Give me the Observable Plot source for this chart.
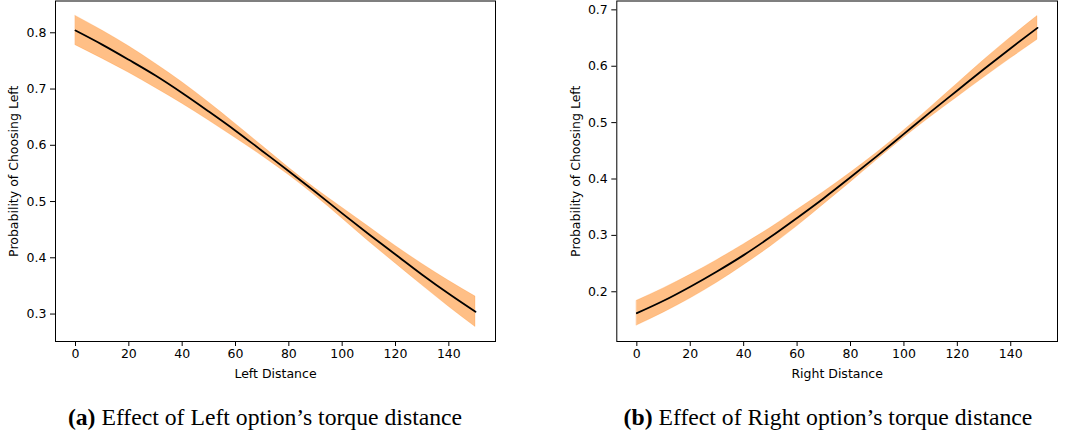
<!DOCTYPE html>
<html>
<head>
<meta charset="utf-8">
<script src="https://cdn.jsdelivr.net/npm/d3@7"></script>
<script src="https://cdn.jsdelivr.net/npm/@observablehq/plot@0.6"></script>
<style>
  html, body { margin: 0; padding: 0; background: #fff; }
  #fig { position: relative; width: 1079px; height: 437px; overflow: hidden; background: #fff; }
  .panel { position: absolute; top: 0; }
  .cap { position: absolute; top: 405.5px; font-family: "Liberation Serif", "Times New Roman", serif; font-size: 23.7px; line-height: 23.7px; color: #000; text-align: center; white-space: nowrap; }
  .cap b { font-weight: bold; }
</style>
</head>
<body>
<div id="fig">
  <div id="pa" class="panel" style="left:0px"></div>
  <div id="pb" class="panel" style="left:540px"></div>
  <div class="cap" style="left:15px; width:500px"><b>(a)</b> Effect of Left option’s torque distance</div>
  <div class="cap" style="left:578px; width:500px"><b>(b)</b> Effect of Right option’s torque distance</div>
</div>
<script>
// ---- data ----
const distances = [0, 10, 20, 30, 40, 50, 60, 70, 80, 90, 100, 110, 120, 130, 140, 150];

const leftMean  = [0.804, 0.779, 0.752, 0.724, 0.693, 0.660, 0.626, 0.590, 0.554, 0.517, 0.479, 0.442, 0.406, 0.370, 0.336, 0.304];
const leftLower = [0.778, 0.754, 0.729, 0.702, 0.674, 0.644, 0.613, 0.581, 0.547, 0.510, 0.470, 0.429, 0.390, 0.351, 0.313, 0.277];
const leftUpper = [0.830, 0.804, 0.776, 0.745, 0.712, 0.676, 0.638, 0.599, 0.560, 0.523, 0.489, 0.455, 0.421, 0.389, 0.359, 0.331];

const rightMean  = [0.162, 0.184, 0.209, 0.236, 0.265, 0.297, 0.331, 0.366, 0.403, 0.441, 0.480, 0.519, 0.557, 0.595, 0.632, 0.668];
const rightLower = [0.140, 0.163, 0.188, 0.216, 0.247, 0.280, 0.316, 0.355, 0.394, 0.434, 0.473, 0.510, 0.545, 0.580, 0.614, 0.647];
const rightUpper = [0.184, 0.206, 0.230, 0.256, 0.284, 0.313, 0.345, 0.377, 0.411, 0.447, 0.486, 0.527, 0.569, 0.611, 0.651, 0.689];

const xTicks = [0, 20, 40, 60, 80, 100, 120, 140];
const leftYTicks = [0.3, 0.4, 0.5, 0.6, 0.7, 0.8];
const rightYTicks = [0.2, 0.3, 0.4, 0.5, 0.6, 0.7];

const yLabel = "Probability of Choosing Left";

function rows(mean, lower, upper) {
  return distances.map((d, i) => ({x: d, m: mean[i], lo: lower[i], hi: upper[i]}));
}

function panel({data, xLabel, yTicks, yDomain, marginLeft, marginRight, width, yLabelDx}) {
  return Plot.plot({
    width, height: 382,
    marginLeft, marginRight, marginTop: 0.5, marginBottom: 41,
    style: {fontFamily: "DejaVu Sans, sans-serif", fontSize: "12.5px", color: "#000", background: "#fff", overflow: "visible"},
    x: {domain: [-7.5, 157.5]},
    y: {domain: yDomain},
    marks: [
      Plot.areaY(data, {x: "x", y1: "lo", y2: "hi", fill: "#ff7f0e", fillOpacity: 0.5, stroke: "#ff7f0e", strokeOpacity: 0.35, strokeWidth: 0.6, curve: "monotone-x"}),
      Plot.lineY(data, {x: "x", y: "m", stroke: "#000", strokeWidth: 1.8, curve: "monotone-x"}),
      Plot.frame({stroke: "#000", strokeWidth: 1}),
      Plot.axisX(xTicks, {tickSize: 5, tickPadding: 3, label: null, stroke: "#000", fill: "#000"}),
      Plot.axisY(yTicks, {tickSize: 5, tickPadding: 4, label: null, tickFormat: d3.format(".1f"), stroke: "#000", fill: "#000"}),
      Plot.text([xLabel], {frameAnchor: "bottom", dy: 32, lineAnchor: "middle", fill: "#000"}),
      Plot.text([yLabel], {frameAnchor: "left", dx: yLabelDx, rotate: -90, lineAnchor: "middle", textAnchor: "middle", fill: "#000"})
    ]
  });
}

document.getElementById("pa").append(panel({
  data: rows(leftMean, leftLower, leftUpper),
  xLabel: "Left Distance",
  yTicks: leftYTicks,
  yDomain: [0.2512, 0.8565],
  marginLeft: 55, marginRight: 45, width: 540,
  yLabelDx: -41.7
}));

document.getElementById("pb").append(panel({
  data: rows(rightMean, rightLower, rightUpper),
  xLabel: "Right Distance",
  yTicks: rightYTicks,
  yDomain: [0.1118, 0.7157],
  marginLeft: 76.3, marginRight: 22, width: 539,
  yLabelDx: -41.3
}));
</script>
</body>
</html>
